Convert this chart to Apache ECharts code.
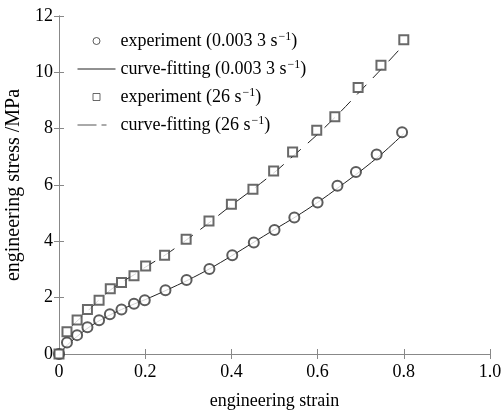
<!DOCTYPE html>
<html><head><meta charset="utf-8">
<script src="https://cdn.jsdelivr.net/npm/echarts@6/dist/echarts.min.js"></script>
<style>html,body{margin:0;padding:0;background:#fff}#c{width:502px;height:410px}</style>
</head><body><div id="c"></div>
<script>
// experiment 0.0033 s^-1 (circles)
var lowX = [0, 0.0185, 0.042, 0.066, 0.093, 0.118, 0.145, 0.174, 0.199, 0.247, 0.296, 0.349, 0.402, 0.452, 0.500, 0.546, 0.600, 0.646, 0.689, 0.737, 0.796];
var lowY = [0, 0.41, 0.67, 0.95, 1.20, 1.41, 1.58, 1.78, 1.91, 2.26, 2.63, 3.02, 3.51, 3.96, 4.40, 4.85, 5.38, 5.97, 6.46, 7.08, 7.87];
// experiment 26 s^-1 (squares)
var highX = [0, 0.0185, 0.042, 0.066, 0.093, 0.119, 0.145, 0.174, 0.201, 0.245, 0.295, 0.348, 0.400, 0.450, 0.498, 0.542, 0.598, 0.640, 0.694, 0.747, 0.800];
var highY = [0, 0.79, 1.21, 1.58, 1.91, 2.32, 2.54, 2.78, 3.12, 3.51, 4.07, 4.72, 5.32, 5.85, 6.50, 7.17, 7.94, 8.42, 9.46, 10.25, 11.16];
// curve-fitting 0.0033 s^-1
var fitLowX = [0, 0.02, 0.04, 0.065, 0.09, 0.12, 0.145, 0.175, 0.2, 0.25, 0.3, 0.35, 0.4, 0.45, 0.5, 0.55, 0.6, 0.65, 0.7, 0.75, 0.8];
var fitLowY = [0, 0.33, 0.6, 0.9, 1.15, 1.4, 1.58, 1.78, 1.93, 2.27, 2.63, 3.03, 3.48, 3.95, 4.42, 4.88, 5.38, 5.93, 6.5, 7.12, 7.82];
// curve-fitting 26 s^-1
var fitHighX = [0.03, 0.065, 0.09, 0.12, 0.145, 0.175, 0.2, 0.25, 0.3, 0.35, 0.4, 0.45, 0.5, 0.55, 0.6, 0.65, 0.7, 0.75, 0.8];
var fitHighY = [1.0, 1.5, 1.88, 2.28, 2.55, 2.82, 3.08, 3.55, 4.1, 4.68, 5.28, 5.85, 6.45, 7.12, 7.8, 8.55, 9.35, 10.15, 10.98];
var xTicks = [0, 0.2, 0.4, 0.6, 0.8, 1.0];
var yTicks = [0, 2, 4, 6, 8, 10, 12];
var names = ['experiment (0.003 3 s', 'curve-fitting (0.003 3 s', 'experiment (26 s', 'curve-fitting (26 s'];

function pairs(xs, ys) { return xs.map(function (x, i) { return [x, ys[i]]; }); }

var font = 'Liberation Serif, Times New Roman, serif';
var axisColor = '#888';
var hidden = { color: 'transparent', borderColor: 'transparent', borderWidth: 0, opacity: 0 };
var chart = echarts.init(document.getElementById('c'));
var commonAxis = {
  axisLine: { show: true, lineStyle: { color: axisColor, width: 1 } },
  axisTick: { show: true, inside: true, length: 5, lineStyle: { color: axisColor } },
  splitLine: { show: false }
};
chart.setOption({
  animation: false,
  backgroundColor: '#fff',
  grid: { left: 59, right: 12, top: 16, bottom: 56, outerBoundsMode: 'none', containLabel: false },
  legend: {
    left: 72, top: 26, orient: 'vertical', itemGap: 9, itemWidth: 38, itemHeight: 7,
    symbolKeepAspect: true,
    data: [
      { name: names[0], icon: 'circle', itemStyle: { color: 'transparent', borderColor: '#333', borderWidth: 1 } },
      { name: names[1], itemStyle: hidden, lineStyle: { color: '#222', width: 1, type: 'solid' } },
      { name: names[2], icon: 'path://M0,0H10V10H0Z', itemStyle: { color: 'transparent', borderColor: '#444', borderWidth: 1 } },
      { name: names[3], itemStyle: hidden, lineStyle: { color: '#555', width: 1, type: [19, 5, 5, 9] } }
    ],
    formatter: function (n) { return '{a|' + n + '}{s|−1}{a|)}'; },
    textStyle: {
      color: '#000', fontFamily: font, fontSize: 18,
      rich: {
        a: { fontFamily: font, fontSize: 18, color: '#000' },
        s: { fontFamily: font, fontSize: 12, color: '#000', verticalAlign: 'top', padding: [0, 0, 8, 1] }
      }
    }
  },
  xAxis: [
    Object.assign({}, commonAxis, {
      type: 'value', min: 0, max: 1, interval: 0.2,
      name: 'engineering strain', nameLocation: 'middle', nameGap: 38,
      nameTextStyle: { fontFamily: font, fontSize: 18, color: '#000' },
      axisLabel: { fontFamily: font, fontSize: 18, color: '#000', margin: 9,
        formatter: function (v) { return v === 0 ? '0' : v.toFixed(1); } }
    }),
    Object.assign({}, commonAxis, {
      type: 'value', position: 'top', min: 0, max: 1, interval: 0.2, axisLabel: { show: false }
    })
  ],
  yAxis: [
    Object.assign({}, commonAxis, {
      type: 'value', min: 0, max: 12, interval: 2,
      name: 'engineering stress /MPa', nameLocation: 'middle', nameGap: 30,
      nameTextStyle: { fontFamily: font, fontSize: 20, color: '#000' },
      axisLabel: { fontFamily: font, fontSize: 18, color: '#000', margin: 6 }
    }),
    Object.assign({}, commonAxis, {
      type: 'value', position: 'right', min: 0, max: 12, interval: 2, axisLabel: { show: false }
    })
  ],
  series: [
    { name: names[0], type: 'scatter', symbol: 'emptyCircle', symbolSize: 10, z: 3,
      itemStyle: { color: '#333', borderColor: '#333', borderWidth: 0.8 },
      data: pairs(lowX, lowY) },
    { name: names[1], type: 'line', symbol: 'none', smooth: 0.3, z: 2,
      lineStyle: { color: '#222', width: 1 }, itemStyle: { color: '#222' },
      data: pairs(fitLowX, fitLowY) },
    { name: names[2], type: 'scatter', symbol: 'emptyRect', symbolSize: 9, z: 3,
      itemStyle: { color: '#444', borderColor: '#444', borderWidth: 0.8 },
      data: pairs(highX, highY) },
    { name: names[3], type: 'line', symbol: 'none', smooth: 0.3, z: 2,
      lineStyle: { color: '#222', width: 1, type: [14, 9] }, itemStyle: { color: '#222' },
      data: pairs(fitHighX, fitHighY) }
  ]
});
</script>
</body></html>
